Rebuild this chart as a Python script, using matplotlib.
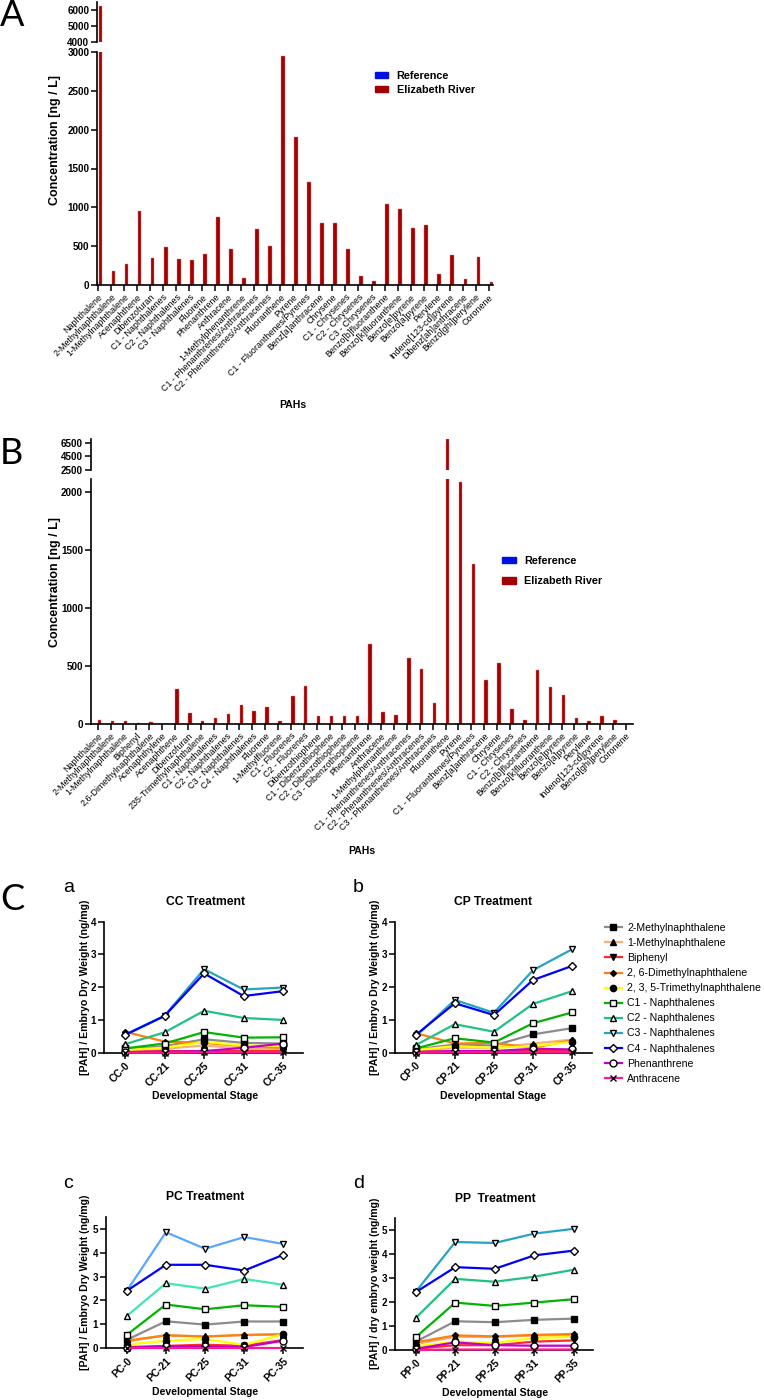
import matplotlib
matplotlib.use("Agg")
import matplotlib.pyplot as plt
from matplotlib.patches import Patch

plt.rcParams['font.family'] = ['Liberation Sans', 'DejaVu Sans']

W, H = 764, 1400

# ---------------- panel A : water concentrations (ng/L)
pahsA = ["Naphthalene", "2-Methylnaphthalene", "1-Methylnaphthalene", "Acenaphthene",
         "Dibenzofuran", "C1 - Naphthalenes", "C2 - Naphthalenes", "C3 - Naphthalenes",
         "Fluorene", "Phenanthrene", "Anthracene", "1-Methylphenanthrene",
         "C1 - Phenanthrenes/Anthracenes", "C2 - Phenanthrenes/Anthracenes", "Fluoranthene",
         "Pyrene", "C1 - Fluoranthenes/Pyrenes", "Benz[a]anthracene", "Chrysene",
         "C1 - Chrysenes", "C2 - Chrysenes", "C3 - Chrysenes", "Benzo[b]fluoranthene",
         "Benzo[k]fluoranthene", "Benzo[e]pyrene", "Benzo[a]pyrene", "Perylene",
         "Indeno[123-cd]pyrene", "Dibenz[ah]anthracene", "Benzo[ghi]perylene", "Coronene"]
refA = [40, 0, 0, 0, 0, 0, 0, 0, 0, 0, 0, 0, 0, 0, 0, 0, 0, 0, 0, 0, 0, 0, 0, 0, 0, 0, 0,
        0, 0, 0, 0]
erA = [6250, 185, 270, 958, 352, 490, 331, 327, 400, 872, 464, 95, 718, 507, 2944,
       1908, 1332, 800, 800, 460, 116, 47, 1040, 975, 730, 775, 142, 390, 80, 362, 45]

# ---------------- panel B
pahsB = ["Naphthalene", "2-Methylnaphthalene", "1-Methylnaphthalene", "Biphenyl",
         "2,6-Dimethylnaphthalene", "Acenaphthylene", "Acenaphthene", "Dibenzofuran",
         "235-Trimethylnaphthalene", "C1 - Naphthalenes", "C2 - Naphthalenes",
         "C3 - Naphthalenes", "C4 - Naphthalenes", "Fluorene", "1-Methylfluorene",
         "C1 - Fluorenes", "C2 - Fluorenes", "Dibenzothiophene", "C1 - Dibenzothiophene",
         "C2 - Dibenzothiophene", "C3 - Dibenzothiophene", "Phenanthrene", "Anthracene",
         "1-Methylphenanthrene", "C1 - Phenanthrenes/Anthracenes",
         "C2 - Phenanthrenes/Anthracenes", "C3 - Phenanthrenes/Anthracenes", "Fluoranthene",
         "Pyrene", "C1 - Fluoranthenes/Pyrenes", "Benz[a]anthracene", "Chrysene",
         "C1 - Chrysenes", "C2 - Chrysenes", "Benzo[b]fluoranthene", "Benzo[k]fluoranthene",
         "Benzo[e]pyrene", "Benzo[a]pyrene", "Perylene", "Indeno[123-cd]pyrene",
         "Benzo[ghi]perylene", "Coronene"]
refB = [0] * 42
erB = [32, 20, 20, 9, 11, 0, 296, 89, 20, 49, 83, 158, 106, 144, 23, 241, 322, 69, 69,
       69, 66, 687, 103, 78, 569, 474, 178, 6990, 2081, 1379, 374, 523, 127, 32, 465,
       316, 247, 52, 23, 69, 29, 0]

# ---------------- panel C : embryo burden (ng/mg)
compounds = ["2-Methylnaphthalene", "1-Methylnaphthalene", "Biphenyl",
             "2, 6-Dimethylnaphthalene", "2, 3, 5-Trimethylnaphthalene", "C1 - Naphthalenes",
             "C2 - Naphthalenes", "C3 - Naphthalenes", "C4 - Naphthalenes", "Phenanthrene",
             "Anthracene"]
days = ["0", "21", "25", "31", "35"]

CC = [[0.10, 0.20, 0.41, 0.30, 0.28],
      [0.05, 0.12, 0.22, 0.12, 0.12],
      [0.02, 0.05, 0.05, 0.05, 0.05],
      [0.64, 0.34, 0.30, 0.20, 0.15],
      [0.08, 0.15, 0.33, 0.22, 0.20],
      [0.13, 0.28, 0.63, 0.46, 0.47],
      [0.26, 0.62, 1.28, 1.06, 1.00],
      [0.55, 1.13, 2.55, 1.93, 1.99],
      [0.54, 1.12, 2.42, 1.73, 1.88],
      [0.02, 0.03, 0.05, 0.15, 0.28],
      [0.00, 0.00, 0.01, 0.01, 0.01]]
CP = [[0.10, 0.25, 0.22, 0.56, 0.75],
      [0.05, 0.15, 0.15, 0.28, 0.40],
      [0.02, 0.05, 0.05, 0.05, 0.05],
      [0.60, 0.28, 0.30, 0.15, 0.38],
      [0.08, 0.20, 0.15, 0.20, 0.33],
      [0.13, 0.44, 0.31, 0.90, 1.23],
      [0.23, 0.87, 0.64, 1.49, 1.88],
      [0.50, 1.61, 1.22, 2.52, 3.16],
      [0.54, 1.51, 1.15, 2.22, 2.65],
      [0.02, 0.05, 0.05, 0.12, 0.10],
      [0.00, 0.01, 0.01, 0.01, 0.01]]
PC = [[0.35, 1.13, 0.99, 1.12, 1.12],
      [0.28, 0.55, 0.50, 0.55, 0.58],
      [0.05, 0.10, 0.15, 0.10, 0.35],
      [0.32, 0.54, 0.49, 0.56, 0.59],
      [0.15, 0.32, 0.39, 0.14, 0.60],
      [0.56, 1.83, 1.63, 1.80, 1.73],
      [1.35, 2.72, 2.49, 2.90, 2.65],
      [2.40, 4.85, 4.16, 4.65, 4.36],
      [2.40, 3.49, 3.49, 3.25, 3.91],
      [0.03, 0.08, 0.08, 0.05, 0.32],
      [0.00, 0.00, 0.00, 0.00, 0.00]]
PP = [[0.35, 1.20, 1.16, 1.26, 1.31],
      [0.25, 0.55, 0.55, 0.60, 0.62],
      [0.05, 0.20, 0.20, 0.35, 0.40],
      [0.32, 0.61, 0.57, 0.63, 0.67],
      [0.15, 0.35, 0.30, 0.50, 0.55],
      [0.54, 1.98, 1.84, 1.98, 2.12],
      [1.35, 2.97, 2.85, 3.06, 3.35],
      [2.44, 4.51, 4.47, 4.86, 5.06],
      [2.42, 3.46, 3.39, 3.95, 4.15],
      [0.05, 0.32, 0.20, 0.18, 0.18],
      [0.00, 0.02, 0.02, 0.02, 0.02]]

lineColors = ['#8c8c8c', '#f6b07c', '#ff2a2a', '#ff7f10', '#ffff00', '#00b400',
              '#1fc282', '#27a3c4', '#0000ff', '#c000d0', '#ff1a8c']
pcColors = lineColors[:6] + ['#40e8b0', '#5aa7ff'] + lineColors[8:]
markers = ['s', '^', 'v', 'D', 'o', 's', '^', 'v', 'D', 'o', 'x']
faces = ['black'] * 5 + ['white'] * 5 + ['black']
msizes = [4.5, 4.5, 4.5, 3, 4.5, 5, 5, 5, 4, 5, 5]

RED = '#a30000'
BLUE = '#0010e0'


def box(l, t, r, b):
    return [l / W, 1 - b / H, (r - l) / W, (b - t) / H]


def style(ax):
    for s in ('top', 'right'):
        ax.spines[s].set_visible(False)
    for s in ('left', 'bottom'):
        ax.spines[s].set_linewidth(1.2)
    ax.tick_params(width=1.1, length=4, labelsize=7.1, pad=1.5)
    for t in ax.get_yticklabels():
        t.set_fontweight('bold')


def barPanel(fig, names, ref, er, xl, xr, up, low, upLim, lowLim, upTicks, lowTicks, xlim, off):
    axU = fig.add_axes(box(xl, up[0], xr, up[1]))
    axL = fig.add_axes(box(xl, low[0], xr, low[1]))
    x = list(range(len(names)))
    for ax in (axU, axL):
        ax.bar([i - off[0] for i in x], ref, 0.27, color=BLUE, edgecolor='#8080ff', lw=0.3)
        ax.bar([i + off[1] for i in x], er, 0.27, color=RED, edgecolor='#e08080', lw=0.3)
        ax.set_xlim(xlim)
    axU.set_ylim(upLim)
    axU.set_yticks(upTicks)
    axU.set_xticks([])
    axU.spines['bottom'].set_visible(False)
    axL.set_ylim(lowLim)
    axL.set_yticks(lowTicks)
    axL.set_xticks(x)
    axL.set_xticklabels(names, rotation=45, ha='right', va='top', rotation_mode='anchor')
    style(axU)
    style(axL)
    for t in axL.get_xticklabels():
        t.set_fontsize(6.4)
    return axU, axL


def linePanel(fig, rect, data, prefix, ylim, yticks, colors):
    ax = fig.add_axes(rect)
    for i in range(len(compounds)):
        ax.plot(range(len(days)), data[i], color=colors[i], lw=1.6, marker=markers[i],
                mfc=faces[i], mec='black', mew=1.0, ms=msizes[i], label=compounds[i],
                clip_on=False, zorder=3 + i * 0.1)
    ax.set_xlim(-0.53, 4.5)
    ax.set_ylim(ylim)
    ax.set_yticks(yticks)
    ax.set_xticks(range(len(days)))
    ax.set_xticklabels([prefix + "-" + d for d in days], rotation=45, ha='right',
                       va='top', rotation_mode='anchor', fontweight='bold')
    style(ax)
    for t in ax.get_xticklabels():
        t.set_fontsize(7.4)
    return ax


def main():
    fig = plt.figure(figsize=(W / 100, H / 100), dpi=100)

    # panel A
    axU, axL = barPanel(fig, pahsA, refA, erA, 97, 493, (2, 42.3), (52, 285),
                        (4000, 6470), (0, 3000), [4000, 5000, 6000],
                        range(0, 3001, 500), (-0.08, 30.33), (0.12, 0.2))
    fig.legend([Patch(color=BLUE), Patch(color=RED)], ["Reference", "Elizabeth River"],
               loc='upper left', bbox_to_anchor=(375 / W, 1 - 71 / H), frameon=False,
               prop={'weight': 'bold', 'size': 7.8}, borderpad=0, borderaxespad=0,
               handlelength=1.2, handleheight=0.55, handletextpad=0.8, labelspacing=0.35)
    fig.text(55 / W, 1 - 140 / H, "Concentration [ng / L]", rotation=90, ha='center',
             va='center', fontsize=9, fontweight='bold')
    fig.text(293 / W, 1 - 405 / H, "PAHs", ha='center', va='center', fontsize=7.5,
             fontweight='bold')
    fig.text(0, 1 - 16 / H, "A", ha='left', va='center', fontsize=26, family='Lato')

    # panel B
    axU, axL = barPanel(fig, pahsB, refB, erB, 90.7, 633.3, (439, 470), (479.3, 723.7),
                        (2500, 7040), (0, 2107), [2500, 4500, 6500],
                        range(0, 2001, 500), (-0.54, 41.57), (0.12, 0.15))
    fig.legend([Patch(color=BLUE), Patch(color=RED)], ["Reference", "Elizabeth River"],
               loc='upper left', bbox_to_anchor=(502 / W, 1 - 556 / H), frameon=False,
               prop={'weight': 'bold', 'size': 7.8}, borderpad=0, borderaxespad=0,
               handlelength=1.3, handleheight=0.55, handletextpad=0.75, labelspacing=0.95)
    fig.text(55 / W, 1 - 582 / H, "Concentration [ng / L]", rotation=90, ha='center',
             va='center', fontsize=9, fontweight='bold')
    fig.text(362 / W, 1 - 851 / H, "PAHs", ha='center', va='center', fontsize=7.5,
             fontweight='bold')
    fig.text(0, 1 - 453 / H, "B", ha='left', va='center', fontsize=26, family='Lato')

    # panel C
    axa = linePanel(fig, box(104, 921.7, 303, 1052.7), CC, "CC", (0, 4), range(0, 5), lineColors)
    axb = linePanel(fig, box(395, 921.7, 591.7, 1052.7), CP, "CP", (0, 4), range(0, 5), lineColors)
    axc = linePanel(fig, box(106, 1216.7, 303, 1348.3), PC, "PC", (0, 5.5), range(0, 6), pcColors)
    axd = linePanel(fig, box(395, 1218.3, 593.3, 1350), PP, "PP", (0, 5.5), range(0, 6), lineColors)

    h, l = axb.get_legend_handles_labels()
    fig.legend(h, l, loc='upper left', bbox_to_anchor=(605 / W, 1 - 923 / H), frameon=False,
               fontsize=7.6, borderpad=0, borderaxespad=0, handlelength=1.6,
               handletextpad=0.5, labelspacing=0.48)

    fig.text(0, 1 - 900 / H, "C", ha='left', va='center', fontsize=26, family='Lato')
    for s, x, y in [("a", 63, 892), ("b", 353, 892), ("c", 63, 1188), ("d", 353, 1188)]:
        fig.text(x / W, 1 - y / H, s, ha='left', va='baseline', fontsize=14)
    for s, x, y in [("CC Treatment", 205, 902), ("CP Treatment", 493, 902),
                    ("PC Treatment", 205, 1197), ("PP  Treatment", 495, 1199)]:
        fig.text(x / W, 1 - y / H, s, ha='center', va='center', fontsize=8.7,
                 fontweight='bold')
    for s, x, y in [("[PAH] / Embryo Dry Weight (ng/mg)", 85, 987),
                    ("[PAH] / Embryo Dry Weight (ng/mg)", 375, 987),
                    ("[PAH] / Embryo Dry Weight (ng/mg)", 85, 1282),
                    ("[PAH] / dry embryo weight (ng/mg)", 375, 1283)]:
        fig.text(x / W, 1 - y / H, s, rotation=90, ha='center', va='center', fontsize=7.6,
                 fontweight='bold')
    for x, y in [(205, 1096), (493, 1096), (205, 1392), (495, 1393)]:
        fig.text(x / W, 1 - y / H, "Developmental Stage", ha='center', va='center',
                 fontsize=7.6, fontweight='bold')

    fig.savefig("out.png", dpi=100)


main()
